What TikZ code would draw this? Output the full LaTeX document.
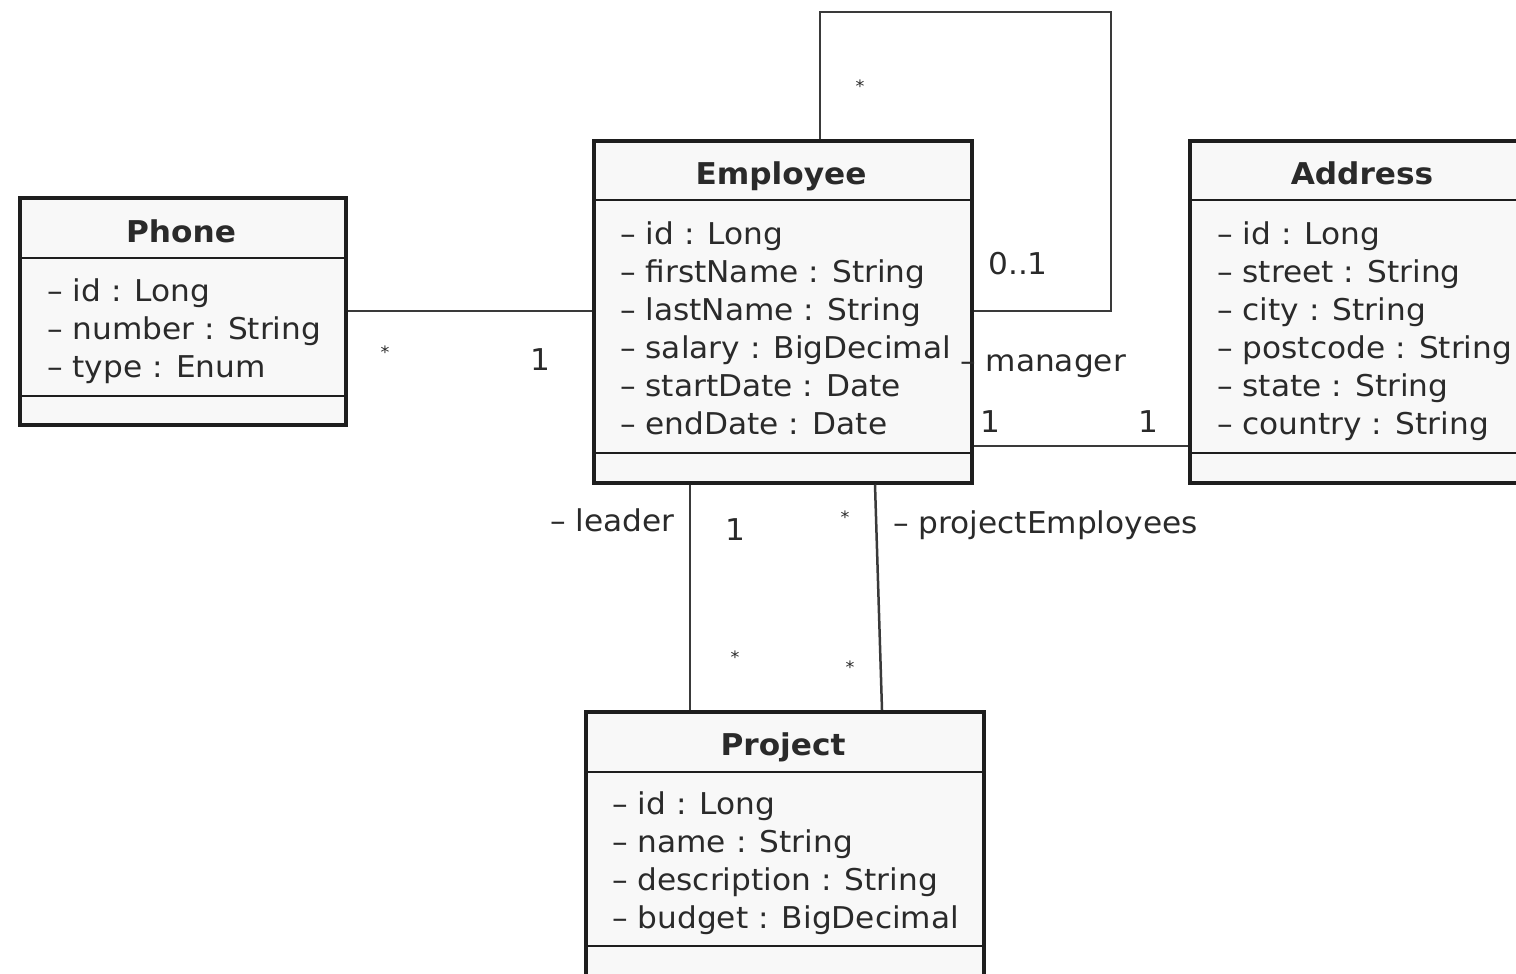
\documentclass[tikz,border=0pt]{standalone}
\usepackage{fontspec}
\setmainfont{DejaVu Sans}[FakeStretch=1.04]
\definecolor{linec}{HTML}{1E1E1E}
\definecolor{assocc}{HTML}{3A3A3A}
\definecolor{boxfill}{HTML}{F8F8F8}
\definecolor{txt}{HTML}{2A2A2A}
\tikzset{
  cls/.style={draw=linec, line width=3.5pt, fill=boxfill, inner sep=0pt, anchor=north west},
  div/.style={draw=linec, line width=2pt},
  title/.style={font=\fontsize{30}{36}\selectfont\bfseries, text=txt, inner sep=0pt, anchor=base},
  attr/.style={font=\fontsize{30}{38}\selectfont, text=txt, inner sep=0pt, anchor=base west},
  assoc/.style={draw=assocc, line width=2.5pt},
  lbl/.style={font=\fontsize{30}{36}\selectfont, text=txt, inner sep=0pt},
  star/.style={font=\fontsize{17}{20}\selectfont, text=txt, inner sep=0pt},
}
\begin{document}
\begin{tikzpicture}[x=1pt,y=-1pt]
\useasboundingbox[fill=white] (0,0) rectangle (1516,974);

% ---------- Phone ----------
\node[cls, minimum width=326pt, minimum height=227pt] (phone) at (18,196) {};
\draw[div] (phone.west |- 0,258) -- (phone.east |- 0,258);
\draw[div] (phone.west |- 0,396) -- (phone.east |- 0,396);
\node[title] (phoneT) at (181,242) {Phone};
\node[attr] (ph1) at (47,301) {– id : Long};
\node[attr] (ph2) at (47,339) {– number : String};
\node[attr] (ph3) at (47,377) {– type : Enum};

% ---------- Employee ----------
\node[cls, minimum width=378pt, minimum height=342pt] (emp) at (592,139) {};
\draw[div] (emp.west |- 0,200) -- (emp.east |- 0,200);
\draw[div] (emp.west |- 0,453) -- (emp.east |- 0,453);
\node[title] (empT) at (781,184) {Employee};
\node[attr] (e1) at (620,244) {– id : Long};
\node[attr] (e2) at (620,282) {– firstName : String};
\node[attr] (e3) at (620,320) {– lastName : String};
\node[attr] (e4) at (620,358) {– salary : BigDecimal};
\node[attr] (e5) at (620,396) {– startDate : Date};
\node[attr] (e6) at (620,434) {– endDate : Date};

% ---------- Address ----------
\node[cls, minimum width=340pt, minimum height=342pt] (addr) at (1188,139) {};
\draw[div] (addr.west |- 0,200) -- (addr.east |- 0,200);
\draw[div] (addr.west |- 0,453) -- (addr.east |- 0,453);
\node[title] (addrT) at (1362,184) {Address};
\node[attr] (a1) at (1217,244) {– id : Long};
\node[attr] (a2) at (1217,282) {– street : String};
\node[attr] (a3) at (1217,320) {– city : String};
\node[attr] (a4) at (1217,358) {– postcode : String};
\node[attr] (a5) at (1217,396) {– state : String};
\node[attr] (a6) at (1217,434) {– country : String};

% ---------- Project ----------
\node[cls, minimum width=398pt, minimum height=290pt] (proj) at (584,710) {};
\draw[div] (proj.west |- 0,772) -- (proj.east |- 0,772);
\draw[div] (proj.west |- 0,946) -- (proj.east |- 0,946);
\node[title] (projT) at (783,755) {Project};
\node[attr] (p1) at (612,814) {– id : Long};
\node[attr] (p2) at (612,852) {– name : String};
\node[attr] (p3) at (612,890) {– description : String};
\node[attr] (p4) at (612,928) {– budget : BigDecimal};

% ---------- Associations ----------
% Phone -- Employee
\draw[assoc] (phone.east |- 0,311) -- (emp.west |- 0,311);
\node[star] (s1) at (385,352) {*};
\node[lbl] (m1) at (540,360) {1};

% manager self association
\coordinate (loopTL) at (820,12);
\coordinate (loopTR) at (1111,12);
\draw[assoc] (emp.north -| loopTL) -- (loopTL) -- (loopTR) |- (emp.east |- 0,311);
\node[star] (s2) at (860,86) {*};
\node[lbl] (m2) at (1018,264) {0..1};
\node[lbl, anchor=base west] (mgr) at (960,371) {– manager};

% Employee -- Address
\draw[assoc] (emp.east |- 0,446) -- (addr.west |- 0,446);
\node[lbl] (m3) at (990,422) {1};
\node[lbl] (m4) at (1148,422) {1};

% leader
\draw[assoc] (emp.south -| 690,0) -- (proj.north -| 690,0);
\node[lbl, anchor=base east] (ldr) at (675,531) {– leader};
\node[lbl] (m5) at (735,530) {1};
\node[star] (s3) at (735,657) {*};

% projectEmployees
\draw[assoc] (emp.south -| 875,0) -- (proj.north -| 882,0);
\node[star] (s4) at (845,517) {*};
\node[lbl, anchor=base west] (pe) at (893,533) {– projectEmployees};
\node[star] (s5) at (850,667) {*};
\end{tikzpicture}
\end{document}
